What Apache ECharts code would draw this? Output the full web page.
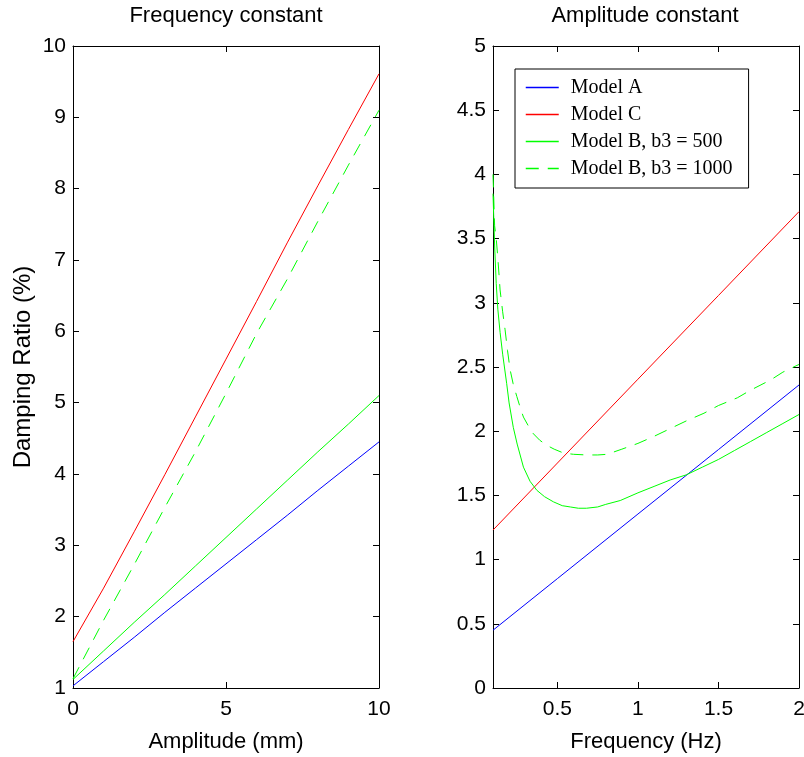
<!DOCTYPE html>
<html>
<head>
<meta charset="utf-8">
<script src="https://cdn.jsdelivr.net/npm/echarts@6/dist/echarts.min.js"></script>
<style>
html,body{margin:0;padding:0;background:#fff;}
#chart{width:804px;height:757px;}
</style>
</head>
<body>
<div id="chart"></div>
<script>
// ---- Left panel: Frequency constant (x = amplitude, mm) ----
var ampX = [0, 1, 2, 3, 4, 5, 6, 7, 8, 9, 10];
var leftModelA = [1.03, 1.37, 1.71, 2.06, 2.40, 2.74, 3.08, 3.42, 3.77, 4.11, 4.45];
var leftModelC = [1.65, 2.40, 3.19, 3.99, 4.80, 5.61, 6.42, 7.24, 8.04, 8.83, 9.61];
var leftModelB500 = [1.12, 1.52, 1.92, 2.31, 2.71, 3.11, 3.51, 3.91, 4.31, 4.70, 5.10];
var leftModelB1000 = [1.13, 1.95, 2.73, 3.53, 4.31, 5.13, 5.97, 6.73, 7.54, 8.33, 9.10];

// ---- Right panel: Amplitude constant (x = frequency, Hz) ----
var freqLin = [0.1, 0.5, 1.0, 1.5, 2.0];
var rightModelA = [0.45, 0.852, 1.355, 1.857, 2.36];
var rightModelC = [1.23, 1.752, 2.405, 3.057, 3.71];
var freqB500 = [0.1, 0.11, 0.12, 0.13, 0.144, 0.16, 0.185, 0.2, 0.226, 0.25, 0.289, 0.33, 0.372, 0.42, 0.475, 0.53, 0.58, 0.63, 0.68, 0.75, 0.8, 0.89, 1.0, 1.1, 1.2, 1.3, 1.4, 1.5, 1.6, 1.7, 1.8, 1.9, 2.0];
var rightModelB500 = [3.85, 3.45, 3.15, 2.95, 2.77, 2.6, 2.37, 2.22, 2.03, 1.9, 1.72, 1.61, 1.54, 1.49, 1.45, 1.42, 1.41, 1.40, 1.40, 1.41, 1.43, 1.46, 1.52, 1.57, 1.62, 1.66, 1.72, 1.78, 1.85, 1.92, 1.99, 2.06, 2.13];
var freqB1000 = [0.1, 0.105, 0.11, 0.12, 0.13, 0.144, 0.16, 0.175, 0.19, 0.206, 0.225, 0.248, 0.27, 0.289, 0.32, 0.351, 0.39, 0.434, 0.48, 0.538, 0.6, 0.683, 0.75, 0.808, 0.9, 1.0, 1.1, 1.2, 1.3, 1.41, 1.5, 1.617, 1.7, 1.825, 1.9, 2.0];
var rightModelB1000 = [4.0, 3.8, 3.6, 3.5, 3.35, 3.1, 2.93, 2.79, 2.63, 2.48, 2.37, 2.27, 2.18, 2.11, 2.04, 1.98, 1.93, 1.89, 1.86, 1.83, 1.82, 1.815, 1.815, 1.82, 1.86, 1.905, 1.96, 2.02, 2.08, 2.14, 2.2, 2.26, 2.32, 2.40, 2.46, 2.52];

var freqTicks = [0.5, 1, 1.5, 2];
var names = ['Model A', 'Model C', 'Model B, b3 = 500', 'Model B, b3 = 1000'];
var titles = ['Frequency constant', 'Amplitude constant'];

function zip(xs, ys) { return xs.map(function (x, i) { return [x, ys[i]]; }); }

var SANS = 'Liberation Sans, Arial, sans-serif';
var BLUE = '#0000ff', RED = '#ff0000', GREEN = '#00ff00';
var DASH = [13, 9];

function frameAxis(extra) {
  var base = {
    axisLine: { show: true, onZero: false, lineStyle: { color: '#000', width: 1 } },
    axisTick: { show: true, inside: true, length: 6, lineStyle: { color: '#000' } },
    splitLine: { show: false },
    axisLabel: { show: false }
  };
  for (var k in extra) base[k] = extra[k];
  return base;
}
var tickLabel = { show: true, color: '#000', fontFamily: SANS, fontSize: 21 };

function lineSeries(name, data, color, dashed, xi, yi) {
  return {
    name: name, type: 'line', data: data, xAxisIndex: xi, yAxisIndex: yi,
    symbol: 'none', showSymbol: false, silent: true, animation: false,
    lineStyle: { color: color, width: 1, type: dashed ? DASH : 'solid' },
    itemStyle: { color: color }
  };
}

var chart = echarts.init(document.getElementById('chart'), null, { renderer: 'canvas' });
chart.setOption({
  backgroundColor: '#fff',
  animation: false,
  title: [
    { text: titles[0], left: 226, top: 5, padding: 0, textAlign: 'center', textStyle: { fontFamily: SANS, fontSize: 22, fontWeight: 'normal', color: '#000' } },
    { text: titles[1], left: 645, top: 5, padding: 0, textAlign: 'center', textStyle: { fontFamily: SANS, fontSize: 22, fontWeight: 'normal', color: '#000' } }
  ],
  legend: {
    data: names, orient: 'vertical', left: 515, top: 69,
    backgroundColor: '#fff', borderColor: '#000', borderWidth: 1, borderRadius: 0,
    padding: [5, 16, 6, 10], itemGap: 0, itemWidth: 33, itemHeight: 14,
    selectedMode: false,
    itemStyle: { opacity: 0, borderWidth: 0 },
    lineStyle: { width: 1.5 },
    textStyle: { fontFamily: 'Liberation Serif, Times New Roman, serif', fontSize: 20, color: '#000', lineHeight: 27, padding: [0, 0, 0, 7] }
  },
  grid: [
    { left: 73, top: 46, width: 306, height: 642, containLabel: false, outerBoundsMode: 'none' },
    { left: 493, top: 46, width: 306, height: 642, containLabel: false, outerBoundsMode: 'none' }
  ],
  xAxis: [
    frameAxis({ gridIndex: 0, type: 'value', position: 'bottom', min: 0, max: 10, interval: 5,
      axisLabel: Object.assign({}, tickLabel, { margin: 11 }),
      name: 'Amplitude (mm)', nameLocation: 'middle', nameGap: 43,
      nameTextStyle: { fontFamily: SANS, fontSize: 22, color: '#000' } }),
    frameAxis({ gridIndex: 0, type: 'value', position: 'top', min: 0, max: 10, interval: 5 }),
    frameAxis({ gridIndex: 1, type: 'value', position: 'bottom', min: 0.1, max: 2,
      axisTick: { show: true, inside: true, length: 6, lineStyle: { color: '#000' }, customValues: freqTicks },
      axisLabel: Object.assign({}, tickLabel, { margin: 11, customValues: freqTicks, formatter: function (v) { return String(v); } }),
      name: 'Frequency (Hz)', nameLocation: 'middle', nameGap: 43,
      nameTextStyle: { fontFamily: SANS, fontSize: 22, color: '#000' } }),
    frameAxis({ gridIndex: 1, type: 'value', position: 'top', min: 0.1, max: 2,
      axisTick: { show: true, inside: true, length: 6, lineStyle: { color: '#000' }, customValues: freqTicks } })
  ],
  yAxis: [
    frameAxis({ gridIndex: 0, type: 'value', position: 'left', min: 1, max: 10, interval: 1,
      axisLabel: Object.assign({}, tickLabel, { margin: 7 }),
      name: 'Damping Ratio (%)', nameLocation: 'middle', nameGap: 38, nameRotate: 90,
      nameTextStyle: { fontFamily: SANS, fontSize: 24, color: '#000' } }),
    frameAxis({ gridIndex: 0, type: 'value', position: 'right', min: 1, max: 10, interval: 1 }),
    frameAxis({ gridIndex: 1, type: 'value', position: 'left', min: 0, max: 5, interval: 0.5,
      axisLabel: Object.assign({}, tickLabel, { margin: 7 }) }),
    frameAxis({ gridIndex: 1, type: 'value', position: 'right', min: 0, max: 5, interval: 0.5 })
  ],
  series: [
    lineSeries(names[0], zip(ampX, leftModelA), BLUE, false, 0, 0),
    lineSeries(names[1], zip(ampX, leftModelC), RED, false, 0, 0),
    lineSeries(names[2], zip(ampX, leftModelB500), GREEN, false, 0, 0),
    lineSeries(names[3], zip(ampX, leftModelB1000), GREEN, true, 0, 0),
    lineSeries(names[0], zip(freqLin, rightModelA), BLUE, false, 2, 2),
    lineSeries(names[1], zip(freqLin, rightModelC), RED, false, 2, 2),
    lineSeries(names[2], zip(freqB500, rightModelB500), GREEN, false, 2, 2),
    lineSeries(names[3], zip(freqB1000, rightModelB1000), GREEN, true, 2, 2)
  ]
});
</script>
</body>
</html>
